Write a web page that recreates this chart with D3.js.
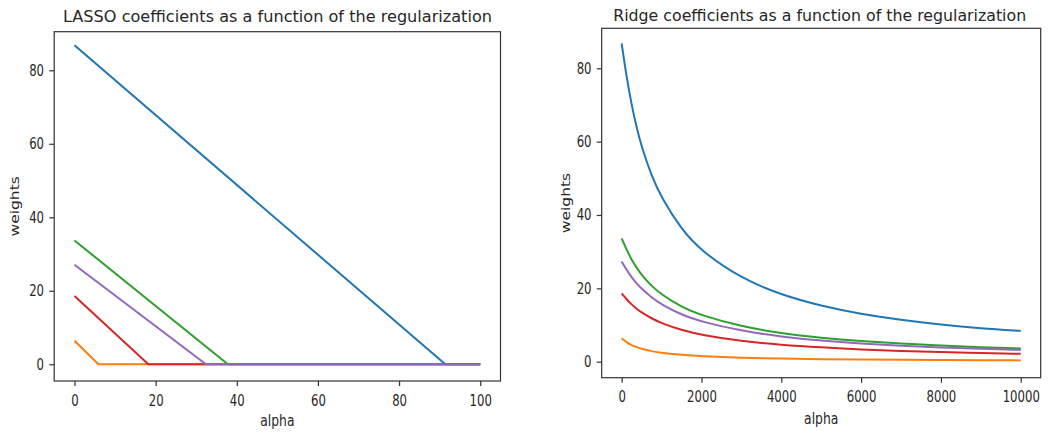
<!DOCTYPE html>
<html>
<head>
<meta charset="utf-8">
<script src="https://cdn.jsdelivr.net/npm/d3@7"></script>
<style>
  body { margin: 0; background: #fff; }
  text { font-family: "DejaVu Sans", sans-serif; fill: #262626; }
</style>
</head>
<body>
<svg id="chart" width="1053" height="434"></svg>
<script>
const svg = d3.select("#chart");

// tab10 order: C0 blue, C1 orange, C2 green, C3 red, C4 purple
const colors = ["#1f77b4", "#ff7f0e", "#2ca02c", "#d62728", "#9467bd"];

// LASSO: weight at alpha=0 and alpha where it hits zero (then flat to 100)
const lassoStart  = [86.8, 6.4, 33.7, 18.6, 27.1];
const lassoZeroAt = [91.4, 5.9, 37.8, 18.2, 32.4];
const lassoAlphaMax = 100;
const lassoTicks = [0, 20, 40, 60, 80, 100];

// Ridge: weights read at these alphas
const ridgeAlpha  = [0, 125, 250, 375, 500, 750, 1000, 1500, 2000, 3000, 4000, 5000, 6000, 7000, 8000, 9000, 10000];
const ridgeBlue   = [86.8, 77.5, 70.0, 63.8, 58.6, 50.6, 44.7, 36.0, 30.1, 22.7, 18.2, 15.2, 13.0, 11.4, 10.1, 9.1, 8.4];
const ridgeOrange = [6.4, 5.3, 4.5, 3.95, 3.5, 2.85, 2.4, 1.83, 1.47, 1.07, 0.83, 0.68, 0.58, 0.5, 0.44, 0.4, 0.36];
const ridgeGreen  = [33.6, 30.5, 27.8, 25.6, 23.7, 20.6, 18.3, 14.9, 12.6, 9.6, 7.7, 6.5, 5.6, 4.9, 4.4, 3.9, 3.6];
const ridgeRed    = [18.6, 17.0, 15.6, 14.4, 13.4, 11.8, 10.5, 8.6, 7.3, 5.6, 4.6, 3.9, 3.3, 2.9, 2.6, 2.4, 2.15];
const ridgePurple = [27.3, 25.0, 23.0, 21.3, 19.9, 17.5, 15.6, 12.8, 10.9, 8.4, 6.8, 5.7, 4.9, 4.3, 3.9, 3.5, 3.2];
const ridgeTicks = [0, 2000, 4000, 6000, 8000, 10000];

const weightTicks = [0, 20, 40, 60, 80];

const lassoSeries = lassoStart.map((w, i) => [[0, w], [lassoZeroAt[i], 0], [lassoAlphaMax, 0]]);
const ridgeSeries = [ridgeBlue, ridgeOrange, ridgeGreen, ridgeRed, ridgePurple]
    .map(vals => vals.map((v, j) => [ridgeAlpha[j], v]));

const SX = 0.78; // picture text is horizontally squeezed

function panel(cfg) {
    const x = d3.scaleLinear().domain(cfg.xDomain).range(cfg.xRange);
    const y = d3.scaleLinear().domain(cfg.yDomain).range(cfg.yRange);
    const g = svg.append("g");

    const line = d3.line().x(d => x(d[0])).y(d => y(d[1])).curve(cfg.curve);
    cfg.series.forEach((pts, i) => {
        g.append("path")
            .attr("d", line(pts))
            .attr("fill", "none")
            .attr("stroke", colors[i])
            .attr("stroke-width", 2)
            .attr("stroke-linejoin", "round");
    });

    // frame
    g.append("rect")
        .attr("x", cfg.xRange[0]).attr("y", cfg.yRange[1])
        .attr("width", cfg.xRange[1] - cfg.xRange[0])
        .attr("height", cfg.yRange[0] - cfg.yRange[1])
        .attr("fill", "none").attr("stroke", "#333").attr("stroke-width", 1.2);

    const xa = g.append("g")
        .attr("transform", `translate(0,${cfg.yRange[0]})`)
        .call(d3.axisBottom(x).tickValues(cfg.xTicks).tickFormat(d3.format("d")).tickSize(5).tickPadding(9));
    const ya = g.append("g")
        .attr("transform", `translate(${cfg.xRange[0]},0)`)
        .call(d3.axisLeft(y).tickValues(weightTicks).tickSize(5).tickPadding(8));

    [xa, ya].forEach(a => {
        a.select(".domain").remove();
        a.selectAll(".tick line").attr("stroke", "#333").attr("stroke-width", 1.2);
        a.selectAll("text")
            .attr("font-size", 15)
            .attr("font-family", "DejaVu Sans")
            .attr("fill", "#2b2b2b")
            .attr("transform", `scale(${SX},1)`);
    });

    const cx = (cfg.xRange[0] + cfg.xRange[1]) / 2;
    const cy = (cfg.yRange[0] + cfg.yRange[1]) / 2;

    g.append("text")
        .attr("x", cfg.titleX).attr("y", cfg.titleY)
        .attr("text-anchor", "middle")
        .attr("font-size", 16.5)
        .attr("textLength", cfg.titleLen)
        .attr("lengthAdjust", "spacingAndGlyphs")
        .text(cfg.title);

    g.append("text")
        .attr("transform", `translate(${cx},${cfg.xLabelY}) scale(0.8,1)`)
        .attr("text-anchor", "middle")
        .attr("font-size", 15.5)
        .text("alpha");

    g.append("text")
        .attr("transform", `translate(${cfg.yLabelX},${cy}) scale(0.75,1) rotate(-90)`)
        .attr("text-anchor", "middle")
        .attr("font-size", 15.5)
        .text("weights");
}

panel({
    series: lassoSeries,
    curve: d3.curveLinear,
    xDomain: [-5, 105], xRange: [54.2, 500.5],
    yDomain: [-4.55, 90.5], yRange: [381, 31.7],
    xTicks: lassoTicks,
    title: "LASSO coefficients as a function of the regularization",
    titleX: 277.5, titleY: 21.5, titleLen: 429,
    xLabelY: 425.5, yLabelX: 18.5
});

panel({
    series: ridgeSeries,
    curve: d3.curveBasis,
    xDomain: [-500, 10500], xRange: [601.7, 1040.7],
    yDomain: [-4.36, 90.9], yRange: [377.7, 28.3],
    xTicks: ridgeTicks,
    title: "Ridge coefficients as a function of the regularization",
    titleX: 819.7, titleY: 20.5, titleLen: 413,
    xLabelY: 423.5, yLabelX: 569.5
});
</script>
</body>
</html>
